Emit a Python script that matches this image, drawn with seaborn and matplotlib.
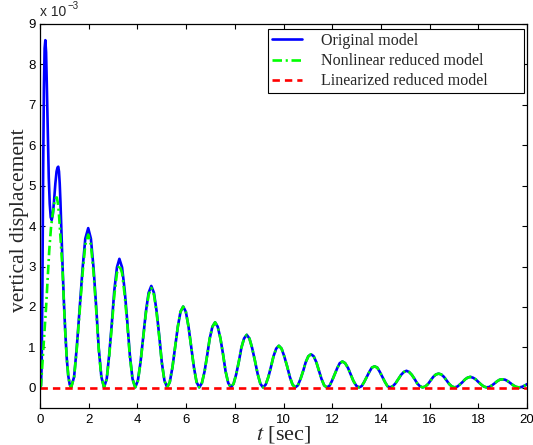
import numpy as np
import pandas as pd
import matplotlib
matplotlib.use("Agg")
import matplotlib.pyplot as plt
import seaborn as sns

# Vertical displacement (in units of 1e-3) of the original model
time_orig = [
    0.00, 0.04, 0.07, 0.10, 0.13, 0.16, 0.19, 0.22, 0.25, 0.28, 0.32, 0.36, 0.40, 0.44, 0.48, 0.53,
    0.58, 0.63, 0.68, 0.72, 0.75, 0.78, 0.81, 0.84, 0.88, 0.93, 0.98, 1.04, 1.10, 1.16, 1.22, 1.28,
    1.40, 1.51, 1.63, 1.75, 1.86, 1.98, 2.09, 2.20, 2.31, 2.41, 2.52, 2.63,
    2.74, 2.84, 2.95, 3.05, 3.16, 3.26, 3.37, 3.48, 3.59, 3.69, 3.80, 3.91,
    4.02, 4.13, 4.24, 4.35, 4.46, 4.57, 4.68, 4.79, 4.90, 5.00, 5.11, 5.22,
    5.33, 5.44, 5.55, 5.66, 5.77, 5.88, 5.99, 6.10, 6.21, 6.32, 6.43, 6.54,
    6.65, 6.76, 6.87, 6.97, 7.08, 7.19, 7.30, 7.41, 7.52, 7.62, 7.73, 7.84,
    7.95, 8.06, 8.17, 8.27, 8.38, 8.49, 8.60, 8.71, 8.83, 8.94, 9.05, 9.16,
    9.27, 9.38, 9.49, 9.59, 9.70, 9.81, 9.92, 10.03, 10.15, 10.26, 10.37, 10.48,
    10.59, 10.70, 10.81, 10.91, 11.02, 11.13, 11.24, 11.35, 11.46, 11.56, 11.67, 11.78,
    11.89, 11.99, 12.10, 12.21, 12.31, 12.42, 12.53, 12.65, 12.76, 12.87, 12.99, 13.10,
    13.21, 13.31, 13.42, 13.53, 13.63, 13.74, 13.85, 13.95, 14.06, 14.17, 14.27, 14.38,
    14.49, 14.60, 14.72, 14.83, 14.94, 15.05, 15.16, 15.27, 15.38, 15.49, 15.60, 15.71,
    15.82, 15.93, 16.04, 16.15, 16.26, 16.37, 16.48, 16.59, 16.70, 16.81, 16.92, 17.03,
    17.14, 17.24, 17.35, 17.46, 17.56, 17.67, 17.78, 17.89, 18.01, 18.12, 18.23, 18.34,
    18.45, 18.56, 18.67, 18.77, 18.88, 18.99, 19.10, 19.22, 19.33, 19.44, 19.56, 19.67,
    19.78, 19.89, 20.00,
]
disp_orig = [
    0.00, 0.05, 0.60, 2.60, 5.40, 7.40, 8.40, 8.60, 8.30, 7.50, 6.30, 5.20, 4.55, 4.22, 4.15, 4.30,
    4.65, 5.05, 5.35, 5.45, 5.47, 5.35, 5.05, 4.60, 3.85, 2.95, 2.15, 1.35, 0.72, 0.30, 0.08, 0.01,
    0.27, 1.00, 1.98, 2.96, 3.69, 3.95, 3.69, 2.96, 1.98, 1.00, 0.27, 0.01,
    0.22, 0.81, 1.60, 2.40, 2.98, 3.19, 2.98, 2.40, 1.60, 0.81, 0.22, 0.01,
    0.18, 0.64, 1.27, 1.89, 2.35, 2.52, 2.35, 1.89, 1.27, 0.64, 0.18, 0.01,
    0.14, 0.51, 1.01, 1.51, 1.88, 2.01, 1.88, 1.51, 1.01, 0.51, 0.14, 0.01,
    0.12, 0.41, 0.82, 1.22, 1.51, 1.62, 1.51, 1.22, 0.82, 0.41, 0.12, 0.01,
    0.10, 0.34, 0.66, 0.99, 1.22, 1.31, 1.22, 0.99, 0.66, 0.34, 0.10, 0.01,
    0.08, 0.27, 0.53, 0.78, 0.97, 1.04, 0.97, 0.78, 0.53, 0.27, 0.08, 0.01,
    0.06, 0.22, 0.42, 0.63, 0.78, 0.83, 0.78, 0.63, 0.42, 0.22, 0.06, 0.01,
    0.05, 0.17, 0.33, 0.49, 0.61, 0.65, 0.61, 0.49, 0.33, 0.17, 0.05, 0.01,
    0.04, 0.14, 0.27, 0.40, 0.50, 0.53, 0.50, 0.40, 0.27, 0.14, 0.04, 0.01,
    0.04, 0.11, 0.22, 0.32, 0.39, 0.42, 0.39, 0.32, 0.22, 0.11, 0.04, 0.01,
    0.03, 0.09, 0.18, 0.27, 0.33, 0.35, 0.33, 0.27, 0.18, 0.09, 0.03, 0.01,
    0.03, 0.08, 0.14, 0.21, 0.25, 0.27, 0.25, 0.21, 0.14, 0.08, 0.03, 0.01,
    0.02, 0.06, 0.11, 0.16, 0.20, 0.21, 0.20, 0.16, 0.11, 0.06, 0.02, 0.01,
    0.02, 0.05, 0.09,
]

# Nonlinear reduced model: its own transient up to t = 5.2 s,
# after which it follows the original response
time_nonlin_head = [
    0.00, 0.04, 0.10, 0.18, 0.25, 0.32, 0.38, 0.45, 0.52, 0.58, 0.64, 0.69, 0.74, 0.79, 0.84, 0.88,
    0.93, 0.98, 1.04, 1.10, 1.16, 1.22, 1.28,
    1.40, 1.51, 1.63, 1.75, 1.86, 1.98, 2.09, 2.20, 2.31, 2.41, 2.52, 2.63,
    2.74, 2.84, 2.95, 3.05, 3.16, 3.26, 3.37, 3.48, 3.59, 3.69, 3.80, 3.91,
    4.02, 4.13, 4.24, 4.35, 4.46, 4.57, 4.68, 4.79, 4.90, 5.00, 5.11,
]
disp_nonlin_head = [
    0.00, 0.05, 0.60, 1.35, 2.00, 2.75, 3.40, 3.95, 4.30, 4.55, 4.68, 4.71, 4.55, 4.20, 3.75, 3.35,
    2.85, 2.10, 1.35, 0.72, 0.30, 0.08, 0.01,
    0.26, 0.96, 1.90, 2.84, 3.54, 3.79, 3.54, 2.84, 1.90, 0.96, 0.26, 0.01,
    0.21, 0.77, 1.53, 2.28, 2.84, 3.04, 2.84, 2.28, 1.53, 0.77, 0.21, 0.01,
    0.17, 0.63, 1.24, 1.85, 2.30, 2.47, 2.30, 1.85, 1.24, 0.63, 0.17,
]

# Linearized reduced model stays at zero
time_lin = [0.0, 20.0]
disp_lin = [0.0, 0.0]

x_ticks = list(range(0, 21, 2))
y_ticks = list(range(0, 10))

t_o = np.array(time_orig)
d_o = np.array(disp_orig)
tail = t_o >= 5.22 - 1e-9
t_n = np.concatenate([time_nonlin_head, t_o[tail]])
d_n = np.concatenate([disp_nonlin_head, d_o[tail]])

sns.set_theme(style="ticks")
plt.rcParams.update({
    "font.family": ["Liberation Sans", "DejaVu Sans"],
    "mathtext.fontset": "stix",
    "axes.edgecolor": "black",
    "axes.linewidth": 0.9,
    "xtick.direction": "in",
    "ytick.direction": "in",
    "xtick.top": True,
    "ytick.right": True,
    "xtick.major.size": 3.5,
    "ytick.major.size": 3.5,
    "xtick.major.width": 0.8,
    "ytick.major.width": 0.8,
    "xtick.color": "black",
    "ytick.color": "black",
    "xtick.labelsize": 9.5,
    "ytick.labelsize": 9.5,
})

W, H = 533, 445
fig = plt.figure(figsize=(W / 100, H / 100), dpi=100)
ax = fig.add_axes([40 / W, 1 - 408 / H, 487 / W, 384 / H])

# trailing blanks widen the legend box on the right
pad = "\u00a0" * 8
sns.lineplot(x=t_o, y=d_o, ax=ax, color="#0000ff", linewidth=1.9,
             label="Original model" + pad, sort=False, estimator=None, errorbar=None)
sns.lineplot(x=t_n, y=d_n, ax=ax, color="#00ff00", linewidth=1.9,
             linestyle=(0, (3.6, 1.4, 0.8, 1.4)),
             label="Nonlinear reduced model" + pad, sort=False, estimator=None, errorbar=None)
sns.lineplot(x=time_lin, y=disp_lin, ax=ax, color="#ff0000", linewidth=1.9,
             linestyle=(0, (2.8, 1.9)),
             label="Linearized reduced model" + pad, sort=False, estimator=None, errorbar=None)

ax.set_xlim(0, 20)
ax.set_ylim(-0.5, 9)
ax.set_xticks(x_ticks)
ax.set_yticks(y_ticks)
ax.tick_params(axis="x", pad=4)
ax.tick_params(axis="y", pad=3)

ax.set_xlabel(r"$t$ [sec]", fontfamily="Liberation Serif", fontsize=16, labelpad=-1)
ax.set_ylabel("vertical displacement", fontfamily="Liberation Serif", fontsize=15.5)
ax.yaxis.set_label_coords(-0.022, 0.49)

# Exponent of the y scale
ax.annotate("x 10", xy=(0, 1), xycoords="axes fraction", xytext=(0, 3.5),
            textcoords="offset points", ha="left", va="bottom", fontsize=10)
ax.annotate("\u22123", xy=(0, 1), xycoords="axes fraction", xytext=(20, 9),
            textcoords="offset points", ha="left", va="bottom", fontsize=7)

leg = ax.legend(loc="upper right", bbox_to_anchor=(1 - 3 / 487, 1 - 5 / 384),
                borderaxespad=0, fancybox=False, framealpha=1, edgecolor="black",
                prop={"family": "Liberation Serif", "size": 11.5},
                handlelength=1.9, handletextpad=1.2, labelspacing=0.26, borderpad=0.25)
leg.get_frame().set_linewidth(0.8)

fig.savefig("out.png", dpi=100)
